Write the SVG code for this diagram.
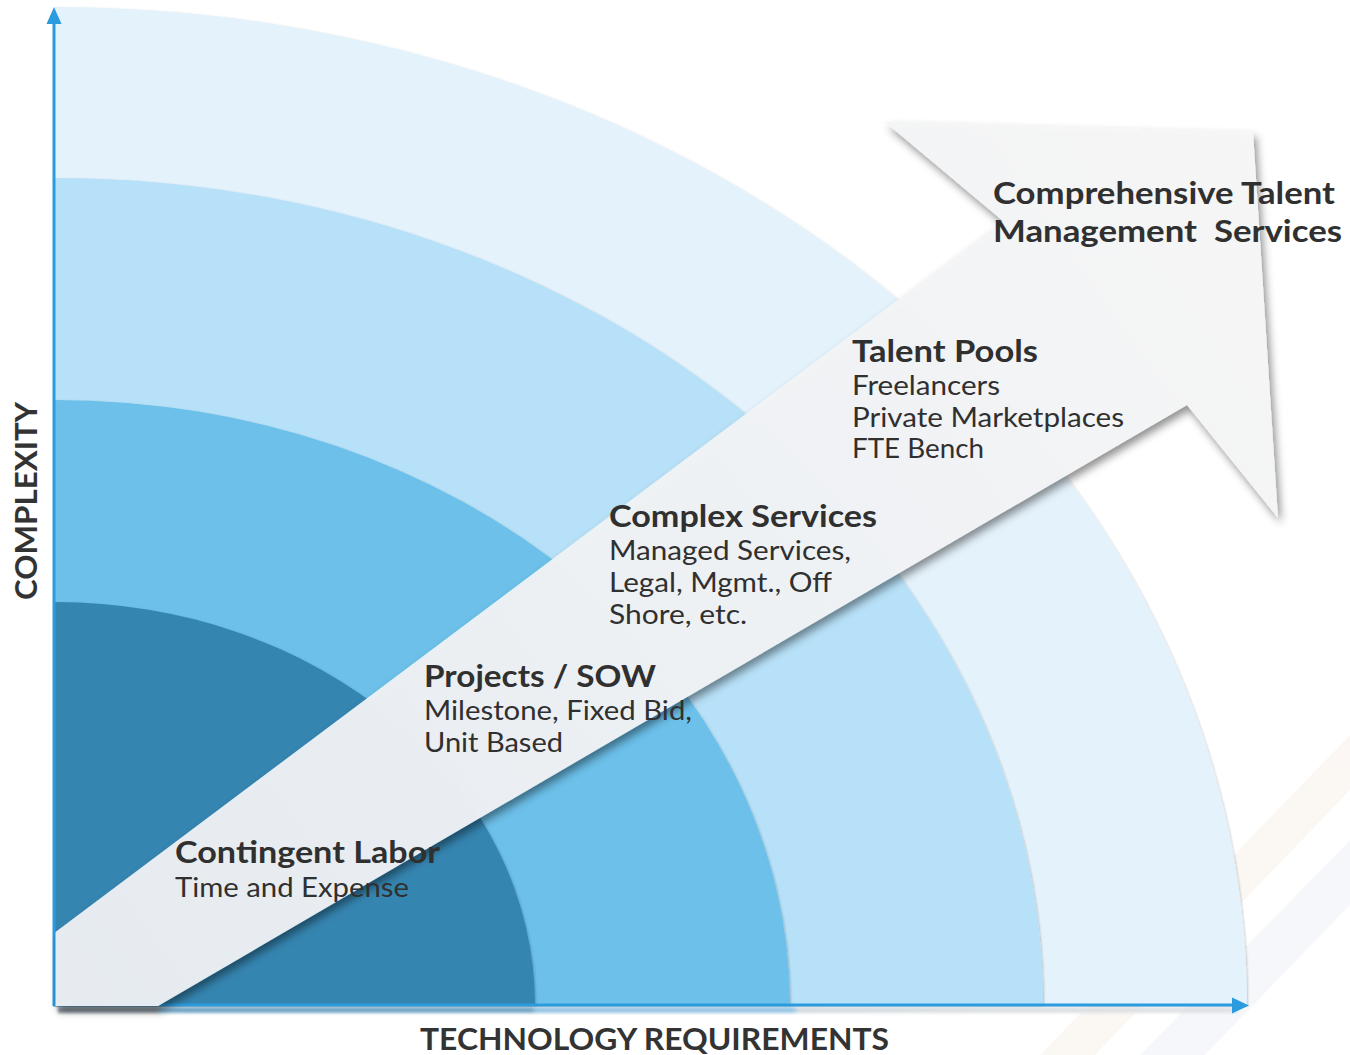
<svg xmlns="http://www.w3.org/2000/svg" width="1350" height="1055" viewBox="0 0 1350 1055">
  <defs>
    <style>
      .lbl { font-family: Lato, "Liberation Sans", sans-serif; fill: #303030; }
      .head { font-weight: 700; font-size: 31px; }
      .sub { font-weight: 400; font-size: 26px; }
      .axis-title { font-family: Lato, "Liberation Sans", sans-serif; font-weight: 700; font-size: 31px; fill: #333333; }
      .axis { stroke: #2b9be0; stroke-width: 3; fill: none; }
      .axis-head { fill: #2b9be0; }
    </style>
    <linearGradient id="arrowFill" x1="55" y1="1000" x2="1270" y2="130" gradientUnits="userSpaceOnUse">
      <stop offset="0" stop-color="#eaeef2"/>
      <stop offset="0.6" stop-color="#f1f3f5"/>
      <stop offset="1" stop-color="#f6f6f6"/>
    </linearGradient>
    <linearGradient id="axisShade" x1="55" y1="0" x2="1245" y2="0" gradientUnits="userSpaceOnUse">
      <stop offset="0" stop-color="#6f7d88"/>
      <stop offset="0.085" stop-color="#6f7d88"/>
      <stop offset="0.09" stop-color="#5f98bd"/>
      <stop offset="0.4" stop-color="#5f98bd"/>
      <stop offset="0.405" stop-color="#86bde0"/>
      <stop offset="0.62" stop-color="#86bde0"/>
      <stop offset="0.625" stop-color="#cfd6db"/>
      <stop offset="1" stop-color="#dde0e3"/>
    </linearGradient>
    <filter id="edge" x="-5%" y="-5%" width="110%" height="110%">
      <feDropShadow dx="1" dy="1" stdDeviation="0.8" flood-color="#000" flood-opacity="0.22"/>
    </filter>
    <filter id="arrowShadow" x="-10%" y="-10%" width="120%" height="120%">
      <feDropShadow dx="3" dy="5" stdDeviation="4" flood-color="#000" flood-opacity="0.45"/>
    </filter>
    <filter id="soft" x="-5%" y="-100%" width="110%" height="300%">
      <feGaussianBlur stdDeviation="1.4"/>
    </filter>
  </defs>

  <rect width="1350" height="1055" fill="#ffffff"/>

  <!-- faint diagonal streaks in the lower right corner -->
  <g id="backdrop" opacity="0.35">
    <polygon points="1040,1055 1350,735 1350,790 1095,1055" fill="#f6e9df"/>
    <polygon points="1140,1055 1350,840 1350,905 1205,1055" fill="#e8ebf2"/>
  </g>

  <!-- quarter bands, outermost first -->
  <g id="bands">
    <path id="band-4" d="M55,1005 L55,7 A1192,998 0 0 1 1247,1005 Z" fill="#e4f2fb" filter="url(#edge)"/>
    <path id="band-3" d="M55,1005 L55,178 A988,827 0 0 1 1043,1005 Z" fill="#b7e1f8" filter="url(#edge)"/>
    <path id="band-2" d="M55,1005 L55,400 A735,605 0 0 1 790,1005 Z" fill="#6cc0ea" filter="url(#edge)"/>
    <path id="band-1" d="M55,1005 L55,602 A480,403 0 0 1 535,1005 Z" fill="#3485b1" filter="url(#edge)"/>
  </g>

  <!-- shade under the horizontal axis -->
  <rect x="58" y="1007" width="1180" height="6" fill="url(#axisShade)" filter="url(#soft)" opacity="0.85"/>

  <!-- axes -->
  <g id="connectors">
    <g id="axis-y">
      <line class="axis" x1="54" y1="1006" x2="54" y2="20"/>
      <polygon class="axis-head" points="46.5,24 54,7 61.5,24"/>
    </g>
    <g id="axis-x">
      <line class="axis" x1="53" y1="1005" x2="1235" y2="1005"/>
      <polygon class="axis-head" points="1232,997.5 1249,1005.5 1232,1013.5"/>
    </g>
  </g>

  <!-- progression arrow -->
  <g id="progress-arrow" filter="url(#arrowShadow)">
    <polygon points="55.5,932 1003,221 885,122 1253,132 1278,518 1187,405 158,1006 55.5,1006" fill="url(#arrowFill)" opacity="0.97"/>
  </g>

  <!-- stage labels -->
  <g id="node-comprehensive" class="lbl">
    <text class="head" x="993" y="204" textLength="342" lengthAdjust="spacingAndGlyphs">Comprehensive Talent</text>
    <text class="head" x="993" y="242" textLength="349" lengthAdjust="spacingAndGlyphs" style="white-space:pre">Management  Services</text>
  </g>

  <g id="node-talent-pools" class="lbl">
    <text class="head" x="852" y="362" textLength="186" lengthAdjust="spacingAndGlyphs">Talent Pools</text>
    <text class="sub" x="852" y="395" textLength="148" lengthAdjust="spacingAndGlyphs">Freelancers</text>
    <text class="sub" x="852" y="427" textLength="272" lengthAdjust="spacingAndGlyphs">Private Marketplaces</text>
    <text class="sub" x="852" y="458" textLength="132" lengthAdjust="spacingAndGlyphs">FTE Bench</text>
  </g>

  <g id="node-complex-services" class="lbl">
    <text class="head" x="609" y="527" textLength="268" lengthAdjust="spacingAndGlyphs">Complex Services</text>
    <text class="sub" x="609" y="560" textLength="242" lengthAdjust="spacingAndGlyphs">Managed Services,</text>
    <text class="sub" x="609" y="592" textLength="223" lengthAdjust="spacingAndGlyphs">Legal, Mgmt., Off</text>
    <text class="sub" x="609" y="624" textLength="138" lengthAdjust="spacingAndGlyphs">Shore, etc.</text>
  </g>

  <g id="node-projects" class="lbl">
    <text class="head" x="424" y="687" textLength="232" lengthAdjust="spacingAndGlyphs">Projects / SOW</text>
    <text class="sub" x="424" y="720" textLength="268" lengthAdjust="spacingAndGlyphs">Milestone, Fixed Bid,</text>
    <text class="sub" x="424" y="752" textLength="139" lengthAdjust="spacingAndGlyphs">Unit Based</text>
  </g>

  <g id="node-contingent" class="lbl">
    <text class="head" x="175" y="863" textLength="265" lengthAdjust="spacingAndGlyphs">Contingent Labor</text>
    <text class="sub" x="175" y="897" textLength="234" lengthAdjust="spacingAndGlyphs">Time and Expense</text>
  </g>

  <!-- axis titles -->
  <g id="axis-titles">
    <text class="axis-title" x="420" y="1050" textLength="469" lengthAdjust="spacingAndGlyphs">TECHNOLOGY REQUIREMENTS</text>
    <text class="axis-title" transform="translate(37,600) rotate(-90)" x="0" y="0" textLength="198" lengthAdjust="spacingAndGlyphs">COMPLEXITY</text>
  </g>
</svg>
